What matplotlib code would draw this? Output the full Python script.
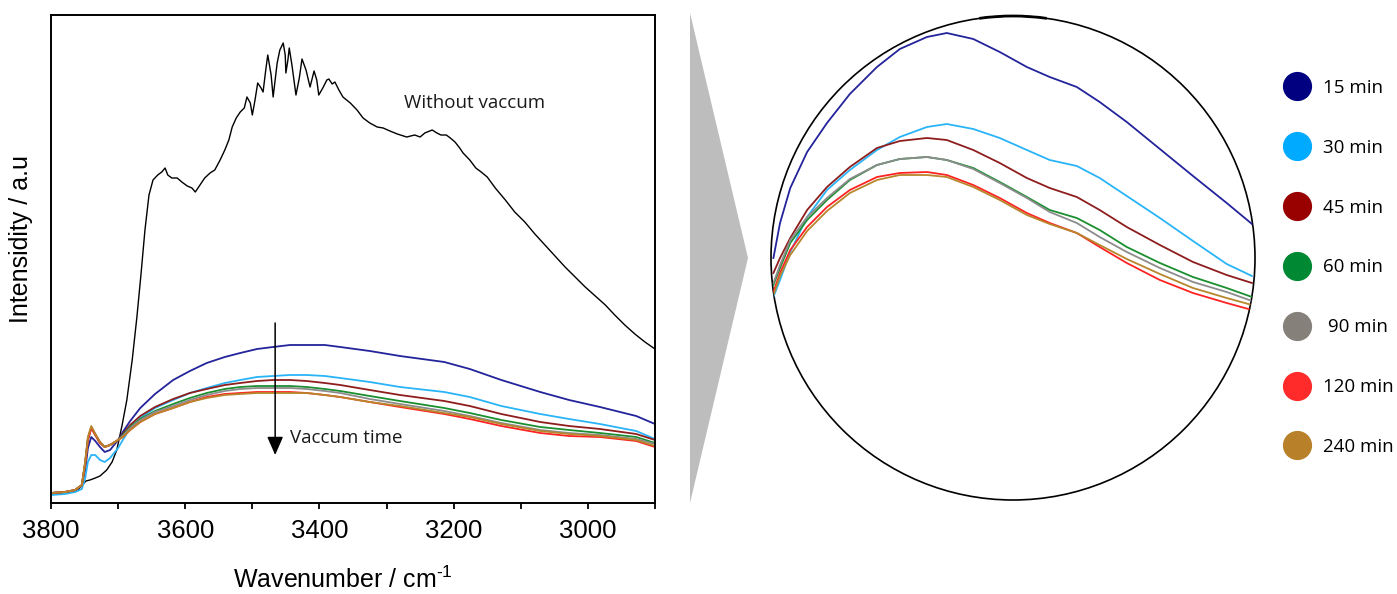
import matplotlib
matplotlib.use("Agg")
import matplotlib.pyplot as plt
from matplotlib.patches import Circle, Arc, Polygon
from matplotlib.lines import Line2D
from matplotlib.ticker import MultipleLocator

plt.rcParams['mathtext.fontset'] = 'custom'
plt.rcParams['mathtext.rm'] = 'Liberation Sans'
plt.rcParams['mathtext.it'] = 'Liberation Sans:italic'

# ---------------- data: main panel ----------------
black_wn = [3800, 3787, 3772, 3760, 3752, 3748, 3742, 3734, 3727, 3717, 3709, 3702, 3694, 3687,
            3679, 3672, 3666, 3660, 3654, 3648, 3641, 3635, 3630, 3626, 3620, 3612, 3605, 3597,
            3590, 3585, 3578, 3571, 3563, 3556, 3548, 3541, 3535, 3530, 3524, 3518, 3512, 3508,
            3503, 3500, 3496, 3492, 3487, 3484, 3480, 3477, 3472, 3469, 3466, 3463, 3459, 3454,
            3451, 3450, 3447, 3445, 3441, 3435, 3430, 3426, 3420, 3414, 3408, 3404, 3401, 3395,
            3389, 3386, 3381, 3377, 3371, 3365, 3354, 3344, 3335, 3325, 3314, 3305, 3295, 3284,
            3270, 3258, 3250, 3243, 3232, 3225, 3219, 3211, 3205, 3198, 3191, 3186, 3176, 3167,
            3159, 3150, 3138, 3123, 3109, 3094, 3079, 3064, 3049, 3034, 3019, 3004, 2989, 2974,
            2960, 2945, 2930, 2915, 2900]
black_I = [9, 10, 11, 13, 19, 22, 23, 25, 27, 33, 41, 53, 78, 103,
           143, 186, 228, 273, 308, 323, 328, 331, 335, 328, 325, 325, 321, 317,
           315, 311, 318, 325, 330, 333, 343, 353, 363, 376, 385, 391, 395, 406,
           400, 388, 403, 420, 415, 411, 433, 448, 428, 406, 423, 440, 453, 460,
           448, 430, 443, 455, 438, 408, 425, 444, 433, 416, 432, 423, 408, 415,
           423, 424, 419, 421, 413, 406, 400, 393, 385, 380, 376, 375, 372, 369,
           366, 368, 366, 370, 373, 370, 368, 368, 365, 361, 355, 350, 343, 335,
           331, 326, 315, 303, 291, 281, 269, 258, 247, 236, 226, 216, 207, 198,
           188, 178, 169, 161, 154]

wn = [3800, 3779, 3764, 3754, 3749, 3745, 3740, 3734, 3727, 3720, 3712, 3700, 3693, 3682,
      3667, 3645, 3618, 3593, 3568, 3541, 3518, 3493, 3469, 3444, 3419, 3392, 3369, 3325,
      3280, 3214, 3176, 3129, 3071, 3028, 2982, 2928, 2900]
I_15 = [10, 11, 13, 17, 33, 55, 66, 62, 56, 51, 53, 63, 71, 82, 95, 109, 123, 132, 140, 146,
        150, 154, 156, 158, 158, 158, 156, 152, 147, 141, 134, 123, 111, 103, 96, 87, 79]
I_30 = [8, 9, 11, 14, 25, 41, 48, 48, 43, 41, 45, 55, 63, 75, 85, 95, 103, 110, 115, 120,
        123, 126, 127, 128, 128, 127, 125, 121, 116, 111, 106, 97, 89, 84, 79, 72, 64]
I_45 = [10, 11, 13, 18, 41, 65, 76, 69, 61, 56, 58, 63, 69, 78, 87, 96, 104, 110, 114, 118,
        120, 122, 123, 123, 122, 120, 118, 113, 108, 102, 97, 89, 81, 77, 74, 69, 63]
I_60 = [10, 11, 13, 18, 40, 63, 75, 68, 60, 56, 58, 63, 68, 76, 84, 92, 99, 105, 110, 114,
        116, 117, 117, 117, 116, 114, 112, 107, 102, 95, 90, 83, 76, 73, 70, 66, 60]
I_90 = [10, 11, 13, 18, 40, 63, 75, 68, 60, 56, 58, 63, 67, 75, 83, 91, 97, 103, 108, 112,
        114, 115, 115, 115, 114, 112, 110, 104, 99, 92, 87, 80, 73, 70, 68, 64, 59]
I_120 = [10, 11, 13, 18, 40, 63, 75, 68, 60, 56, 58, 63, 66, 73, 81, 89, 95, 101, 106, 109,
         110, 111, 111, 111, 110, 108, 106, 101, 96, 89, 84, 77, 70, 67, 66, 62, 56]
I_240 = [10, 11, 13, 18, 42, 66, 77, 69, 61, 56, 58, 63, 66, 73, 81, 89, 95, 101, 105, 108,
         109, 110, 110, 110, 110, 108, 106, 101, 97, 90, 86, 79, 72, 69, 67, 63, 57]

# ---------------- data: magnified (circle) panel ----------------
zoom_wn = [3698, 3687, 3670, 3642, 3609, 3571, 3526, 3488, 3443, 3410, 3366, 3322, 3277,
           3239, 3194, 3156, 3111, 3056, 3001, 2945, 2903]
Z_15 = [242, 277, 312, 348, 377, 406, 433, 451, 463, 467, 461, 448, 433, 423, 413, 398, 378,
        351, 324, 297, 276]
Z_30 = [203, 220, 248, 283, 310, 330, 350, 363, 373, 376, 371, 362, 350, 340, 334, 322, 304,
        282, 259, 236, 224]
Z_45 = [227, 242, 262, 290, 313, 333, 352, 359, 362, 360, 350, 337, 322, 312, 303, 290, 273,
        255, 238, 225, 217]
Z_60 = [215, 232, 257, 280, 300, 320, 335, 341, 343, 340, 332, 318, 303, 290, 282, 270, 253,
        237, 223, 212, 203]
Z_90 = [217, 235, 260, 283, 302, 321, 335, 341, 343, 340, 331, 317, 302, 288, 277, 263, 248,
        232, 218, 208, 199]
Z_120 = [208, 227, 250, 273, 293, 310, 323, 327, 328, 325, 315, 302, 287, 277, 267, 253, 237,
         220, 207, 197, 190]
Z_240 = [205, 224, 245, 269, 289, 307, 320, 325, 325, 323, 313, 300, 285, 276, 267, 255, 241,
         226, 212, 202, 195]

labels = ['15 min', '30 min', '45 min', '60 min', ' 90 min', '120 min', '240 min']
line_colors = ['#23239b', '#2ab4f8', '#8e1d1d', '#1b8f2f', '#8c8c8c', '#ff2222', '#b8862b']
legend_colors = ['#000080', '#00aaff', '#990000', '#008833', '#858079', '#ff2a2a', '#b88028']
xticks = [3800, 3600, 3400, 3200, 3000]

main_series = [I_15, I_30, I_45, I_60, I_90, I_120, I_240]
zoom_series = [Z_15, Z_30, Z_45, Z_60, Z_90, Z_120, Z_240]

W, H = 1397, 594
fig = plt.figure(figsize=(W / 100, H / 100), dpi=100)

# ---------------- main axes ----------------
ax = fig.add_axes([51 / W, 1 - 503 / H, 604 / W, 488 / H])
ax.plot(black_wn, black_I, color='black', lw=1.0)
for ys, c in zip(main_series, line_colors):
    ax.plot(wn, ys, color=c, lw=1.3)
ax.set_xlim(3800, 2900)
ax.set_ylim(0, 488)
ax.set_xticks(xticks)
ax.xaxis.set_minor_locator(MultipleLocator(100))
ax.set_yticks([])
for s in ax.spines.values():
    s.set_linewidth(1.4)
ax.tick_params(axis='x', which='both', direction='out', length=4.5, width=1.3, pad=7,
               labelsize=18.5)
for lab in ax.get_xticklabels():
    lab.set_family('Liberation Sans')
ax.set_xlabel('Wavenumber / cm$^{\\text{-}\\mathregular{1}}$', fontsize=18,
              family='Liberation Sans')
ax.xaxis.set_label_coords(0.483, -0.131)
ax.set_ylabel('Intensidity / a.u', fontsize=18, family='Liberation Sans')
ax.yaxis.set_label_coords(-0.030, 0.541)

ax.annotate('', xy=(3466, 48), xytext=(3466, 180),
            arrowprops=dict(arrowstyle='-|>,head_width=0.35,head_length=0.8',
                            color='black', lw=1.1, mutation_scale=14, shrinkA=0, shrinkB=0))
ax.text(3444, 65, 'Vaccum time', fontsize=13.5, family='Open Sans', va='center', ha='left',
        color='#1a1a1a')
ax.text(3274, 400, 'Without vaccum', fontsize=13.5, family='Open Sans', va='center',
        ha='left', color='#1a1a1a')

# ---------------- grey pointer ----------------
tri = Polygon([[690 / W, 1 - 13 / H], [748 / W, 1 - 258 / H], [690 / W, 1 - 503 / H]],
              closed=True, transform=fig.transFigure, fc='#bdbdbd', ec='none')
fig.add_artist(tri)

# ---------------- magnified circle ----------------
ax2 = fig.add_axes([771 / W, 1 - 500 / H, 484 / W, 484 / H])
ax2.axis('off')
ax2.set_xlim(3702, 2898)
ax2.set_ylim(0, 484)
circ = Circle((0.5, 0.5), 0.5, transform=ax2.transAxes, fill=False, ec='black', lw=1.2,
              clip_on=False)
ax2.add_patch(circ)
ax2.add_patch(Arc((0.5, 0.5), 1.0, 1.0, theta1=82, theta2=98, transform=ax2.transAxes,
                  ec='black', lw=2.0, clip_on=False))
for ys, c in zip(zoom_series, line_colors):
    ln, = ax2.plot(zoom_wn, ys, color=c, lw=1.3)
    ln.set_clip_path(circ)

# ---------------- legend ----------------
handles = [Line2D([], [], marker='o', ls='', ms=20, mfc=c, mec=c) for c in legend_colors]
fig.legend(handles, labels, loc='upper left', bbox_to_anchor=(1285.5 / W, 1 - 79 / H),
           frameon=False, borderpad=0, borderaxespad=0, handlelength=1.2, handletextpad=0.8,
           labelspacing=2.23, prop={'family': 'Open Sans', 'size': 13.5})

fig.savefig('out.png', dpi=100)
